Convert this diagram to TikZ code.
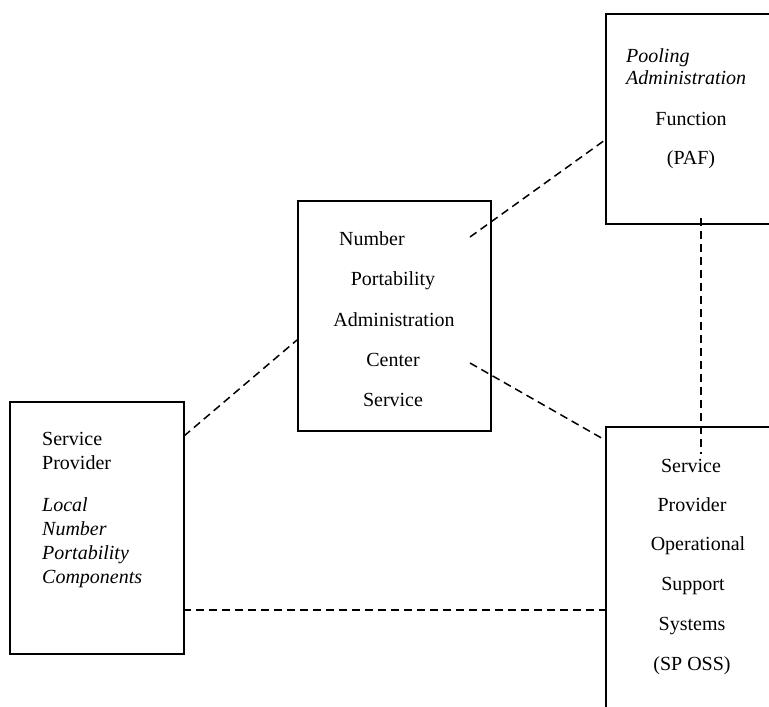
\documentclass[tikz,border=0pt]{standalone}
\usepackage{fontspec}
\setmainfont{Liberation Serif}
\begin{document}
\begin{tikzpicture}[x=1pt,y=-1pt,
  box/.style={draw, line width=1.6pt, rectangle, inner sep=0pt, anchor=north west},
  conn/.style={line width=1.5pt, dash pattern=on 8pt off 5pt},
  txt/.style={font=\fontsize{20}{23}\selectfont, inner sep=0pt},
  itxt/.style={txt, font=\fontsize{20}{23}\selectfont\itshape}]
\useasboundingbox (0,0) rectangle (769,707);
\clip (0,0) rectangle (769,707);
% boxes
\node[box, minimum width=220pt, minimum height=210pt] (paf) at (605,13) {};
\node[box, minimum width=193pt, minimum height=230pt] (npac) at (297,200) {};
\node[box, minimum width=174pt, minimum height=252pt] (lnp) at (9,401) {};
\node[box, minimum width=220pt, minimum height=320pt] (oss) at (605,426) {};
% PAF text
\node[itxt, anchor=base west] (paf1) at (626,62) {Pooling};
\node[itxt, anchor=base west] (paf2) at (626,84) {Administration};
\node[txt, anchor=base] (paf3) at (691,125) {Function};
\node[txt, anchor=base] (paf4) at (691,164) {(PAF)};
% NPAC text
\node[txt, anchor=base west] (np1) at (339,245) {Number};
\node[txt, anchor=base] (np2) at (393,285) {Portability};
\node[txt, anchor=base] (np3) at (394,326) {Administration};
\node[txt, anchor=base] (np4) at (393,366) {Center};
\node[txt, anchor=base] (np5) at (393,406) {Service};
% LNP text
\node[txt, anchor=base west] (l1) at (42,445) {Service};
\node[txt, anchor=base west] (l2) at (42,469) {Provider};
\node[itxt, anchor=base west] (l3) at (42,511) {Local};
\node[itxt, anchor=base west] (l4) at (42,535) {Number};
\node[itxt, anchor=base west] (l5) at (42,559) {Portability};
\node[itxt, anchor=base west] (l6) at (42,583) {Components};
% OSS text
\node[txt, anchor=base] (o1) at (691,472) {Service};
\node[txt, anchor=base] (o2) at (692,511) {Provider};
\node[txt, anchor=base] (o3) at (698,550) {Operational};
\node[txt, anchor=base] (o4) at (693,590) {Support};
\node[txt, anchor=base] (o5) at (692,630) {Systems};
\node[txt, anchor=base] (o6) at (692,670) {(SP OSS)};
% connector end points
\coordinate (a1) at (184,436);
\coordinate (a2) at (297,340);
\coordinate (b1) at (470,237);
\coordinate (b2) at (605,140);
\coordinate (c1) at (470,363);
\coordinate (c2) at (605,440);
\coordinate (d1) at (183,610);
\coordinate (d2) at (605,610);
\coordinate (e1) at (701,218);
\coordinate (e2) at (701,454);
\draw[conn] (a1) -- (a2);
\draw[conn] (b1) -- (b2);
\draw[conn] (c1) -- (c2);
\draw[conn] (d1) -- (d2);
\draw[conn] (e1) -- (e2);
\end{tikzpicture}
\end{document}
